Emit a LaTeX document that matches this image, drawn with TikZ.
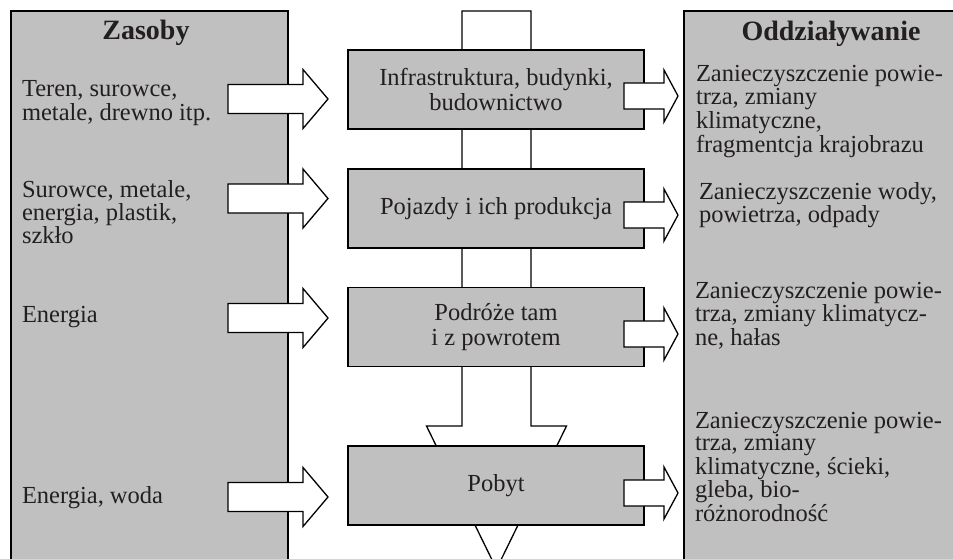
\documentclass[tikz,border=0pt]{standalone}
\usepackage{fontspec}
\setmainfont{Liberation Serif}
\usetikzlibrary{calc}
\definecolor{panelgray}{RGB}{192,192,192}
\definecolor{ink}{RGB}{35,31,32}
% text block whose baseline is that of its first line
\newcommand\rowsL[1]{\begin{tabular}[t]{@{}l@{}}#1\end{tabular}}

\begin{document}
\begin{tikzpicture}[x=1pt,y=-1pt,
  edge/.style={line width=1.3pt, draw=black},
  every node/.style={text=ink, inner sep=0pt, outer sep=0pt},
  heading/.style={font=\fontsize{28}{29}\selectfont\bfseries, anchor=base},
  listtext/.style={font=\fontsize{24.5}{#1}\selectfont, anchor=base west},
  listtext/.default=21.5,
  panelfill/.style={fill=panelgray, draw=none, minimum width=#1, minimum height=548pt},
  stagebox/.style={edge, fill=panelgray, minimum width=296pt, minimum height=79pt,
    align=center, font=\fontsize{24.5}{24.5}\selectfont},
  pics/blockarrow/.style n args={4}{code={
    \draw[edge, fill=white, line join=miter]
      (0,-#2) -- (#1,-#2) -- (#1,-#4) -- ({#1+#3},0) -- (#1,#4) -- (#1,#2) -- (0,#2) -- cycle;
  }}
]
\useasboundingbox (0,0) rectangle (953,559);
\clip (0,0) rectangle (953,559);

% side panels (open at the bottom / right)
\node[panelfill=277pt] (res) at (149.5,285) {};
\draw[edge] (res.south west) -- (res.north west) -- (res.north east) -- (res.south east);
\node[panelfill=269pt] (imp) at (818.5,285) {};
\draw[edge] (imp.south west) -- (imp.north west) -- (imp.north east);

% central downward flow arrow, behind the stages
\coordinate (spine) at (496.5,11);
\draw[edge, fill=white, line join=miter]
  ($(spine)+(-34.5,0)$) -- ($(spine)+(34.5,0)$) -- ($(spine)+(34.5,415)$)
  -- ($(spine)+(70,415)$) -- ($(spine)+(0,558)$) -- ($(spine)+(-70,415)$)
  -- ($(spine)+(-34.5,415)$) -- cycle;

% stages
\node[stagebox] (infra) at (496,89.5) {Infrastruktura, budynki,\\budownictwo};
\node[stagebox] (veh)   at (496,208.5) {Pojazdy i ich produkcja};
\node[stagebox] (trip)  at (496,327) {Podróże tam\\i z powrotem};
\node[stagebox] (stay)  at (496,485.5) {Pobyt};

% headings
\node[heading] (restitle) at (146,40) {Zasoby};
\node[heading] (imptitle) at (831,41) {Oddziaływanie};

% resources
\node[listtext] (r1) at (22,97)  {\rowsL{Teren, surowce,\\metale, drewno itp.}};
\node[listtext] (r2) at (22,197) {\rowsL{Surowce, metale,\\energia, plastik,\\szkło}};
\node[listtext] (r3) at (22,322) {\rowsL{Energia}};
\node[listtext] (r4) at (22,503) {\rowsL{Energia, woda}};

% impacts
\node[listtext=22.5] (i1) at (696,82)  {\rowsL{Zanieczyszczenie powie-\\trza, zmiany\\klimatyczne,\\fragmentcja krajobrazu}};
\node[listtext=22.5] (i2) at (699,199) {\rowsL{Zanieczyszczenie wody,\\powietrza, odpady}};
\node[listtext=22] (i3) at (695,298) {\rowsL{Zanieczyszczenie powie-\\trza, zmiany klimatycz-\\ne, hałas}};
\node[listtext=21.8] (i4) at (695,428) {\rowsL{Zanieczyszczenie powie-\\trza, zmiany\\klimatyczne, ścieki,\\gleba, bio-\\różnorodność}};

% inputs: resources -> stages
\pic (in1) at (228,99)    {blockarrow={75}{14.5}{25}{29.5}};
\pic (in2) at (228,198.5) {blockarrow={75}{14.5}{25}{29.5}};
\pic (in3) at (228,318)   {blockarrow={75}{14.5}{25}{29.5}};
\pic (in4) at (228,497)   {blockarrow={75}{14.5}{25}{29.5}};

% outputs: stages -> impacts
\pic (out1) at (624,96)  {blockarrow={40}{13}{14}{26}};
\pic (out2) at (624,215) {blockarrow={40}{13}{14}{26}};
\pic (out3) at (624,334) {blockarrow={40}{13}{14}{26}};
\pic (out4) at (624,493) {blockarrow={40}{13}{14}{26}};
\end{tikzpicture}
\end{document}
